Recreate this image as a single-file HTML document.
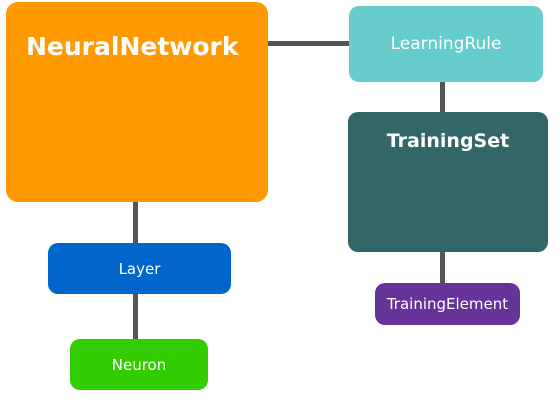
<!DOCTYPE html>
<html><head><meta charset="utf-8"><style>
html,body{margin:0;padding:0;background:#fff;width:560px;height:400px;overflow:hidden;font-family:"DejaVu Sans","Liberation Sans",sans-serif;}
.b{position:absolute;border-radius:10px;color:#fff;}
.l{position:absolute;background:#555;}
.c{display:flex;align-items:center;justify-content:center;}
</style></head><body>
<div class="l" style="left:268px;top:41px;width:82px;height:5px"></div>
<div class="l" style="left:440px;top:80px;width:5px;height:34px"></div>
<div class="l" style="left:440px;top:250px;width:5px;height:35px"></div>
<div class="l" style="left:133px;top:200px;width:5px;height:45px"></div>
<div class="l" style="left:133px;top:292px;width:5px;height:49px"></div>

<div class="b" style="left:6px;top:2px;width:262px;height:200px;background:#FF9900;border-radius:12px">
  <div style="position:absolute;left:20px;top:30px;font-size:25px;font-weight:bold;">NeuralNetwork</div>
</div>
<div class="b c" style="left:349px;top:6px;width:194px;height:76px;background:#66CCCC;font-size:17px">LearningRule</div>
<div class="b" style="left:348px;top:112px;width:200px;height:140px;background:#336666">
  <div style="position:absolute;left:0;right:0;top:18px;text-align:center;font-size:19px;font-weight:bold">TrainingSet</div>
</div>
<div class="b c" style="left:375px;top:283px;width:145px;height:42px;background:#663399;font-size:15px">TrainingElement</div>
<div class="b c" style="left:48px;top:243px;width:183px;height:51px;background:#0066CC;font-size:15px">Layer</div>
<div class="b c" style="left:70px;top:339px;width:138px;height:51px;background:#33CC00;font-size:15px">Neuron</div>
</body></html>
